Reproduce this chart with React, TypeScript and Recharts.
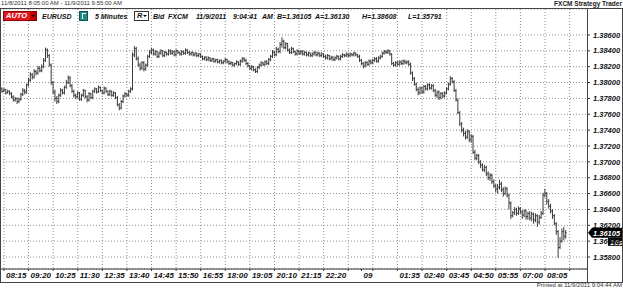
import { ComposedChart, Bar, XAxis, YAxis, CartesianGrid, ReferenceLine } from 'recharts';

// 5-minute EUR/USD bars, values in pips above 1.35000
const pipBase = 1.35;

const opens = [
    290, 292, 289, 291, 287, 289, 286, 282, 278, 280,
    276, 279, 285, 290, 288, 297, 303, 310, 307, 314,
    312, 318, 315, 320, 328, 341, 334, 322, 300, 288,
    280, 276, 284, 290, 287, 294, 300, 306, 296, 289,
    284, 282, 287, 279, 284, 290, 282, 278, 286, 281,
    289, 292, 288, 294, 290, 287, 293, 289, 285, 289,
    284, 287, 281, 272, 268, 276, 283, 286, 284, 289,
    292, 335, 343, 330, 322, 318, 325, 317, 322, 333,
    338, 341, 336, 339, 333, 337, 340, 334, 338, 336,
    340, 337, 339, 335, 340, 338, 336, 339, 337, 341,
    338, 336, 338, 335, 337, 334, 336, 333, 330, 332,
    329, 331, 328, 330, 327, 329, 326, 328, 325, 327,
    329, 326, 324, 325, 322, 324, 326, 323, 327, 330,
    328, 324, 321, 318, 320, 316, 314, 319, 322, 325,
    323, 326, 324, 329, 333, 338, 335, 342, 339, 348,
    352, 344, 349, 341, 338, 343, 339, 336, 340, 337,
    339, 336, 338, 335, 337, 334, 336, 338, 335, 337,
    334, 336, 333, 331, 334, 330, 332, 329, 331, 333,
    330, 333, 335, 334, 336, 334, 336, 335, 337, 335,
    333, 328, 324, 321, 325, 323, 327, 325, 328, 330,
    327, 331, 333, 337, 339, 338, 340, 336, 324, 322,
    325, 323, 326, 324, 327, 325, 326, 323, 312, 305,
    298, 291, 287, 293, 288, 295, 292, 297, 293, 296,
    290, 284, 288, 281, 286, 283, 287, 292, 298, 305,
    301, 290, 278, 262, 248, 240, 236, 231, 238, 228,
    232, 212, 205, 208, 200, 196, 190, 193, 185, 180,
    183, 175, 170, 166, 168, 172, 165, 160, 166, 158,
    148, 132, 136, 140, 135, 141, 137, 133, 138, 131,
    135, 129, 134, 127, 132, 124, 130, 135, 158, 160,
    150, 144, 138, 132, 122, 112, 92, 100, 112, 106,
];

const highs = [
    295, 294, 293, 292, 291, 290, 288, 284, 282, 281,
    281, 287, 293, 292, 299, 306, 313, 312, 317, 316,
    321, 320, 323, 331, 344, 343, 336, 324, 302, 291,
    283, 286, 293, 292, 296, 303, 309, 308, 298, 291,
    286, 289, 288, 286, 292, 291, 284, 288, 287, 291,
    294, 293, 296, 295, 291, 295, 294, 290, 291, 290,
    289, 288, 283, 274, 278, 285, 288, 287, 291, 294,
    338, 346, 345, 333, 325, 327, 327, 324, 335, 341,
    344, 343, 341, 340, 339, 342, 341, 340, 339, 342,
    342, 341, 340, 342, 341, 339, 341, 340, 343, 342,
    340, 339, 339, 338, 338, 337, 337, 334, 333, 333,
    333, 332, 331, 331, 330, 330, 329, 329, 328, 331,
    330, 328, 327, 326, 325, 328, 327, 329, 332, 332,
    330, 326, 322, 322, 321, 318, 321, 324, 327, 326,
    328, 328, 331, 335, 341, 340, 345, 344, 351, 357,
    354, 351, 350, 343, 345, 344, 340, 342, 341, 341,
    341, 340, 339, 339, 338, 338, 340, 339, 339, 338,
    338, 337, 335, 336, 335, 334, 333, 333, 335, 334,
    335, 337, 336, 338, 337, 338, 337, 339, 338, 336,
    335, 330, 326, 327, 327, 329, 329, 330, 332, 332,
    333, 335, 339, 341, 341, 342, 341, 337, 326, 327,
    327, 328, 328, 329, 329, 328, 328, 325, 314, 307,
    300, 294, 295, 295, 297, 297, 299, 299, 298, 298,
    292, 290, 290, 288, 288, 289, 294, 300, 308, 307,
    303, 292, 280, 264, 250, 243, 239, 241, 240, 235,
    234, 215, 210, 210, 202, 198, 196, 195, 188, 186,
    185, 178, 172, 172, 177, 175, 168, 169, 168, 160,
    150, 138, 143, 142, 144, 143, 139, 140, 140, 137,
    138, 137, 136, 135, 134, 133, 138, 161, 166, 162,
    153, 147, 140, 134, 124, 114, 105, 116, 118, 114,
];

const lows = [
    288, 287, 288, 285, 286, 284, 280, 276, 276, 273,
    274, 277, 283, 285, 286, 295, 301, 304, 305, 309,
    310, 313, 313, 318, 326, 331, 320, 297, 285, 276,
    273, 274, 282, 285, 285, 292, 298, 294, 287, 281,
    279, 280, 277, 277, 282, 280, 275, 276, 279, 279,
    287, 286, 287, 288, 285, 285, 287, 283, 283, 282,
    282, 279, 270, 265, 266, 274, 281, 282, 282, 287,
    290, 332, 328, 320, 315, 316, 314, 315, 320, 331,
    336, 334, 334, 331, 331, 335, 332, 332, 334, 334,
    335, 335, 333, 333, 336, 334, 334, 335, 335, 336,
    334, 334, 333, 333, 332, 332, 331, 328, 328, 327,
    327, 326, 326, 325, 325, 324, 324, 323, 323, 325,
    324, 322, 322, 320, 320, 322, 321, 321, 325, 326,
    322, 319, 316, 315, 314, 312, 312, 317, 320, 321,
    321, 322, 322, 327, 331, 333, 333, 337, 337, 344,
    342, 342, 339, 336, 336, 337, 334, 334, 335, 335,
    334, 334, 333, 333, 332, 332, 334, 333, 333, 332,
    332, 331, 329, 329, 328, 328, 327, 327, 329, 328,
    328, 331, 332, 332, 332, 332, 333, 333, 333, 331,
    326, 322, 318, 319, 321, 321, 323, 323, 326, 325,
    325, 329, 331, 335, 336, 336, 334, 322, 320, 320,
    321, 321, 322, 322, 323, 323, 321, 310, 302, 296,
    289, 284, 285, 286, 286, 290, 290, 291, 291, 288,
    282, 280, 278, 279, 280, 281, 285, 290, 296, 299,
    288, 276, 260, 245, 237, 232, 228, 229, 225, 224,
    210, 202, 202, 197, 192, 188, 187, 182, 177, 176,
    172, 167, 162, 160, 165, 162, 156, 158, 155, 140,
    128, 130, 133, 132, 133, 134, 128, 130, 127, 127,
    126, 125, 122, 124, 118, 121, 128, 133, 155, 146,
    141, 135, 128, 120, 108, 79, 90, 98, 101, 103,
];

const closes = [
    292, 289, 291, 287, 289, 286, 282, 278, 280, 276,
    279, 285, 290, 288, 297, 303, 310, 307, 314, 312,
    318, 315, 320, 328, 341, 334, 322, 300, 288, 280,
    276, 284, 290, 287, 294, 300, 306, 296, 289, 284,
    282, 287, 279, 284, 290, 282, 278, 286, 281, 289,
    292, 288, 294, 290, 287, 293, 289, 285, 289, 284,
    287, 281, 272, 268, 276, 283, 286, 284, 289, 292,
    335, 343, 330, 322, 318, 325, 317, 322, 333, 338,
    341, 336, 339, 333, 337, 340, 334, 338, 336, 340,
    337, 339, 335, 340, 338, 336, 339, 337, 341, 338,
    336, 338, 335, 337, 334, 336, 333, 330, 332, 329,
    331, 328, 330, 327, 329, 326, 328, 325, 327, 329,
    326, 324, 325, 322, 324, 326, 323, 327, 330, 328,
    324, 321, 318, 320, 316, 314, 319, 322, 325, 323,
    326, 324, 329, 333, 338, 335, 342, 339, 348, 352,
    344, 349, 341, 338, 343, 339, 336, 340, 337, 339,
    336, 338, 335, 337, 334, 336, 338, 335, 337, 334,
    336, 333, 331, 334, 330, 332, 329, 331, 333, 330,
    333, 335, 334, 336, 334, 336, 335, 337, 335, 333,
    328, 324, 321, 325, 323, 327, 325, 328, 330, 327,
    331, 333, 337, 339, 338, 340, 336, 324, 322, 325,
    323, 326, 324, 327, 325, 326, 323, 312, 305, 298,
    291, 287, 293, 288, 295, 292, 297, 293, 296, 290,
    284, 288, 281, 286, 283, 287, 292, 298, 305, 301,
    290, 278, 262, 248, 240, 236, 231, 238, 228, 232,
    212, 205, 208, 200, 196, 190, 193, 185, 180, 183,
    175, 170, 166, 168, 172, 165, 160, 166, 158, 148,
    132, 136, 140, 135, 141, 137, 133, 138, 131, 135,
    129, 134, 127, 132, 124, 130, 135, 158, 160, 150,
    144, 138, 132, 122, 112, 92, 100, 112, 106, 110.5,
];

// x axis: bar index of each tick, and its label
const tickBars = [2, 15, 28, 41, 54, 67, 80, 93, 106, 119, 132, 145, 158, 171, 184, 191, 197, 210, 223, 236, 249, 262, 275, 288, 301];
const tickLabels = ['08:15', '09:20', '10:25', '11:30', '12:35', '13:40', '14:45', '15:50', '16:55', '18:00', '19:05', '20:10', '21:15', '22:20', '', '09', '', '01:35', '02:40', '03:45', '04:50', '05:55', '07:00', '08:05', ''];
const gridBars = tickBars.filter((b) => b !== 191);

const priceTicks = [1.358, 1.36, 1.362, 1.364, 1.366, 1.368, 1.37, 1.372, 1.374, 1.376, 1.378, 1.38, 1.382, 1.384, 1.386];
const lastPrice = 1.36105;

const toPrice = (p: number) => +(pipBase + p / 10000).toFixed(5);

const data = closes.map((c, i) => ({
    i,
    open: toPrice(opens[i]),
    high: toPrice(highs[i]),
    low: toPrice(lows[i]),
    close: toPrice(c),
    range: [toPrice(lows[i]), toPrice(highs[i])],
}));

const font = '"Liberation Sans", Arial, sans-serif';
const ink = '#111';

/* eslint-disable @typescript-eslint/no-explicit-any */
function OhlcBar(props: any) {
    const { x, y, width, height, payload } = props;
    if (x == null || y == null) return null;
    const top = height >= 0 ? y : y + height;
    const h = Math.abs(height);
    const span = payload.high - payload.low || 1;
    const cx = x + width / 2;
    const yo = top + ((payload.high - payload.open) / span) * h;
    const yc = top + ((payload.high - payload.close) / span) * h;
    return (
        <g stroke="#3a3a3a" strokeWidth={1}>
            <line x1={cx} x2={cx} y1={top} y2={top + h} />
            <line x1={cx - 1} x2={cx} y1={yo} y2={yo} />
            <line x1={cx} x2={cx + 1} y1={yc} y2={yc} />
        </g>
    );
}

function TimeTick({ x, y, payload }: any) {
    const idx = tickBars.indexOf(payload.value);
    const label = idx >= 0 ? tickLabels[idx] : '';
    if (!label) return null;
    return (
        <text x={x + 2} y={y + 5} fill={ink} fontSize={8} fontWeight="bold" fontStyle="italic" fontFamily={font}>
            {label}
        </text>
    );
}

function PriceTag({ viewBox }: any) {
    if (!viewBox) return null;
    const xr = viewBox.x + viewBox.width;
    const y = viewBox.y;
    return (
        <g fontFamily={font} fontWeight="bold" fontStyle="italic">
            <polygon points={`${xr + 1},${y} ${xr + 5},${y - 5} ${xr + 36},${y - 5} ${xr + 36},${y + 5} ${xr + 5},${y + 5}`} fill="#000" />
            <text x={xr + 6} y={y + 3} fill="#fff" fontSize={7.5}>{lastPrice.toFixed(5)}</text>
            <rect x={xr + 21} y={y + 5} width={15} height={8} fill="#000" />
            <text x={xr + 23} y={y + 12} fill="#fff" fontSize={7.5}>16s</text>
        </g>
    );
}

const bold: React.CSSProperties = {
    position: 'absolute',
    top: 12,
    fontSize: 7,
    fontWeight: 'bold',
    fontStyle: 'italic',
    color: ink,
    lineHeight: '9px',
    whiteSpace: 'nowrap',
};

const quote: [string, number][] = [
    ['EURUSD', 42],
    ['5 Minutes', 95],
    ['Bid', 153],
    ['FXCM', 168],
    ['11/9/2011', 196],
    ['9:04:41', 233],
    ['AM', 262],
    ['B=1.36105', 277],
    ['A=1.36130', 315],
    ['H=1.38608', 362],
    ['L=1.35791', 408],
];

export default function App() {
    return (
        <div style={{ position: 'absolute', left: 0, top: 0, width: 623, height: 288, background: '#fff', fontFamily: font, overflow: 'hidden' }}>
            {/* header strip */}
            <div style={{ position: 'absolute', left: 1, top: 0, fontSize: 6, lineHeight: '7px', color: '#333', whiteSpace: 'nowrap' }}>
                11/8/2011 8:05:00 AM - 11/9/2011 9:55:00 AM
            </div>
            <div style={{ position: 'absolute', right: 1, top: 0, fontSize: 6.5, fontWeight: 'bold', lineHeight: '7px', color: '#222', whiteSpace: 'nowrap' }}>
                FXCM Strategy Trader
            </div>

            {/* chart */}
            <div style={{ position: 'absolute', left: 0, top: 8 }}>
                <ComposedChart width={623} height={274} data={data} margin={{ top: 1, right: 0, bottom: 0, left: 0 }}>
                    <CartesianGrid stroke="#8f8f8f" strokeDasharray="1 2" strokeWidth={1} verticalValues={gridBars} />
                    <XAxis
                        dataKey="i"
                        type="number"
                        domain={[-0.1, 310.2]}
                        ticks={tickBars}
                        interval={0}
                        height={13}
                        tickSize={2}
                        tickMargin={2}
                        stroke="#333"
                        tick={<TimeTick />}
                        allowDataOverflow
                    />
                    <YAxis
                        orientation="right"
                        width={36}
                        domain={[1.356487, 1.389274]}
                        ticks={priceTicks}
                        interval={0}
                        allowDataOverflow
                        axisLine={false}
                        tickSize={3}
                        tickMargin={3}
                        stroke="#333"
                        tickFormatter={(v: number) => v.toFixed(5)}
                        tick={{ fill: ink, fontSize: 7.5, fontWeight: 'bold', fontStyle: 'italic', fontFamily: font }}
                    />
                    <Bar dataKey="range" barSize={2} shape={<OhlcBar />} isAnimationActive={false} />
                    <ReferenceLine y={lastPrice} stroke="none" label={<PriceTag />} />
                </ComposedChart>
            </div>

            {/* frame */}
            <div style={{ position: 'absolute', left: 0, top: 8, width: 623, height: 275, border: '1px solid #444', boxSizing: 'border-box', pointerEvents: 'none' }} />
            <div style={{ position: 'absolute', left: 587, top: 8, width: 1, height: 275, background: '#444' }} />

            {/* toolbar */}
            <div style={{ position: 'absolute', left: 3, top: 11, width: 34, height: 10, background: '#e3161c', border: '1px solid #8a0000', boxSizing: 'border-box' }}>
                <span style={{ position: 'absolute', left: 2, top: 0, fontSize: 7.5, lineHeight: '8px', fontWeight: 'bold', fontStyle: 'italic', color: '#fff' }}>AUTO</span>
                <span style={{ position: 'absolute', left: 26, top: 0, width: 6, height: 8, background: '#c40000' }} />
                <span style={{ position: 'absolute', left: 27, top: 3, width: 0, height: 0, borderLeft: '2px solid transparent', borderRight: '2px solid transparent', borderTop: '2px solid #000' }} />
            </div>
            <div style={{ position: 'absolute', left: 79, top: 11, width: 9, height: 10, background: '#1f8a86', border: '1px solid #0d5553', boxSizing: 'border-box' }}>
                <span style={{ position: 'absolute', left: 2, top: 1, width: 1, height: 6, background: '#fff' }} />
                <span style={{ position: 'absolute', left: 2, top: 1, width: 4, height: 1, background: '#fff' }} />
            </div>
            <div style={{ position: 'absolute', left: 134, top: 11, width: 15, height: 10, border: '1px solid #333', background: '#fff', boxSizing: 'border-box' }}>
                <span style={{ position: 'absolute', left: 2, top: 0, fontSize: 7.5, lineHeight: '8px', fontWeight: 'bold', fontStyle: 'italic', color: ink }}>R</span>
                <span style={{ position: 'absolute', left: 8, top: 3, width: 0, height: 0, borderLeft: '2px solid transparent', borderRight: '2px solid transparent', borderTop: '2px solid #000' }} />
            </div>
            {quote.map(([t, left]) => (
                <span key={t} style={{ ...bold, left }}>{t}</span>
            ))}

            {/* footer */}
            <div style={{ position: 'absolute', right: 1, top: 282, fontSize: 6, lineHeight: '7px', color: '#333', whiteSpace: 'nowrap' }}>
                Printed at 11/9/2011 9:04:44 AM
            </div>
        </div>
    );
}
